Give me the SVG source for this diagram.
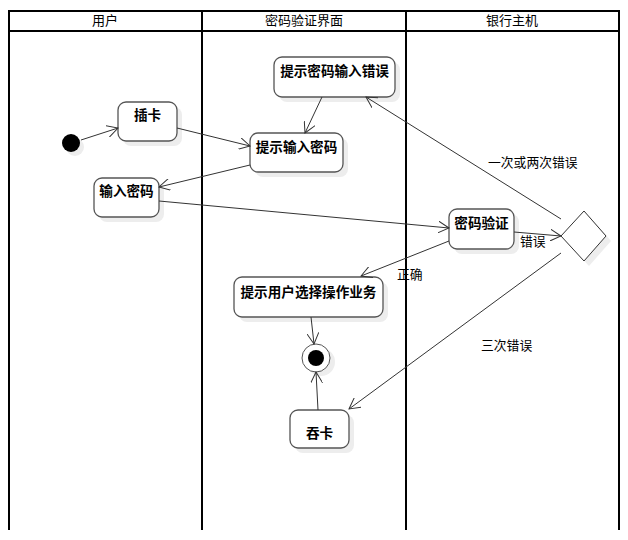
<svg xmlns="http://www.w3.org/2000/svg" width="628" height="540" viewBox="0 0 628 540">
<defs>
<marker id="arr" viewBox="0 0 12 12" refX="11" refY="6" markerWidth="12" markerHeight="12" markerUnits="userSpaceOnUse" orient="auto">
<path d="M0,0 L11,6 L0,12" fill="none" stroke="#333" stroke-width="1"/>
</marker>
</defs>
<style>
.lane{stroke:#000;stroke-width:2;fill:none}
.hdr{font-family:"Noto Sans CJK SC","DejaVu Sans",sans-serif;font-size:13px;fill:#000;text-anchor:middle}
.nd{fill:#fff;stroke:#555;stroke-width:1.3}
.sh{fill:#ededed}
.nt{font-family:"Noto Sans CJK SC",sans-serif;font-size:13.6px;font-weight:bold;fill:#000;text-anchor:middle}
.e{stroke:#333;stroke-width:1;fill:none;marker-end:url(#arr)}
.lb{font-family:"Noto Sans CJK SC",sans-serif;font-size:12.8px;fill:#000}
</style>
<rect width="628" height="540" fill="#fff"/>
<g id="lanes">
<line class="lane" x1="9" y1="11" x2="619" y2="11"/>
<line class="lane" x1="9" y1="31" x2="619" y2="31"/>
<line class="lane" x1="9" y1="10" x2="9" y2="530"/>
<line class="lane" x1="202" y1="10" x2="202" y2="530"/>
<line class="lane" x1="406" y1="10" x2="406" y2="530"/>
<line class="lane" x1="619" y1="10" x2="619" y2="530"/>
<text class="hdr" x="105" y="25">用户</text>
<text class="hdr" x="304" y="25">密码验证界面</text>
<text class="hdr" x="512" y="25">银行主机</text>
</g>
<g id="start">
<circle class="sh" cx="75" cy="147" r="9"/>
<circle cx="71" cy="143" r="9" fill="#000"/>
</g>
<g id="n_insert">
<rect class="sh" x="123" y="107" width="59" height="39" rx="8"/>
<rect class="nd" x="118" y="102" width="59" height="39" rx="8"/>
<text class="nt" x="147.5" y="120">插卡</text>
</g>
<g id="n_prompt">
<rect class="sh" x="255" y="138" width="93" height="39" rx="8"/>
<rect class="nd" x="250" y="133" width="93" height="39" rx="8"/>
<text class="nt" x="296.5" y="152">提示输入密码</text>
</g>
<g id="n_enter">
<rect class="sh" x="99" y="183" width="65" height="39" rx="8"/>
<rect class="nd" x="94" y="178" width="65" height="39" rx="8"/>
<text class="nt" x="126.5" y="196">输入密码</text>
</g>
<g id="n_err">
<rect class="sh" x="279" y="62" width="121" height="40" rx="8"/>
<rect class="nd" x="274" y="57" width="121" height="40" rx="8"/>
<text class="nt" x="334.5" y="76">提示密码输入错误</text>
</g>
<g id="n_verify">
<rect class="sh" x="454" y="214" width="65" height="40" rx="8"/>
<rect class="nd" x="449" y="209" width="65" height="40" rx="8"/>
<text class="nt" x="481.5" y="228">密码验证</text>
</g>
<g id="decision">
<path class="sh" d="M589,216 L611,241 L589,266 L566,241 Z"/>
<path d="M584,211 L606,236 L584,261 L561,236 Z" fill="#fff" stroke="#333" stroke-width="1"/>
</g>
<g id="n_select">
<rect class="sh" x="239" y="282" width="149" height="40" rx="8"/>
<rect class="nd" x="234" y="277" width="149" height="40" rx="8"/>
<text class="nt" x="308.5" y="297">提示用户选择操作业务</text>
</g>
<g id="n_swallow">
<rect class="sh" x="295" y="415" width="59" height="38" rx="8"/>
<rect class="nd" x="290" y="410" width="59" height="38" rx="8"/>
<text class="nt" x="319.5" y="438">吞卡</text>
</g>
<g id="end">
<circle class="sh" cx="321" cy="362" r="14"/>
<circle cx="316" cy="358" r="14" fill="#fff" stroke="#555" stroke-width="1"/>
<circle cx="316" cy="358" r="8" fill="#000"/>
</g>
<g id="edges">
<line class="e" x1="81" y1="140" x2="118" y2="128"/>
<line class="e" x1="177" y1="128" x2="250" y2="146"/>
<line class="e" x1="250" y1="165" x2="159" y2="187"/>
<line class="e" x1="159" y1="201" x2="449" y2="228"/>
<line class="e" x1="514" y1="232" x2="561" y2="236"/>
<line class="e" x1="561" y1="219" x2="366" y2="97"/>
<line class="e" x1="322" y1="97" x2="305" y2="133"/>
<line class="e" x1="449" y1="241" x2="361" y2="276"/>
<line class="e" x1="561" y1="253" x2="349" y2="409"/>
<line class="e" x1="311" y1="317" x2="314" y2="344"/>
<line class="e" x1="318" y1="410" x2="316" y2="372"/>
<text class="lb" x="488" y="167">一次或两次错误</text>
<text class="lb" x="520" y="246">错误</text>
<text class="lb" x="397" y="279">正确</text>
<text class="lb" x="481" y="350">三次错误</text>
</g>
</svg>
